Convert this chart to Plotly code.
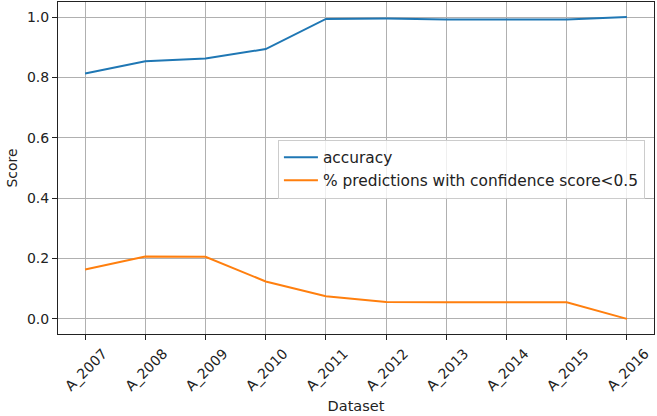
import plotly.graph_objects as go

datasets = ["A_2007", "A_2008", "A_2009", "A_2010", "A_2011", "A_2012", "A_2013", "A_2014", "A_2015", "A_2016"]
accuracy = [0.813, 0.854, 0.863, 0.894, 0.994, 0.995, 0.992, 0.993, 0.992, 1.0]
low_conf = [0.164, 0.207, 0.206, 0.124, 0.075, 0.056, 0.055, 0.055, 0.055, 0.0]

fig = go.Figure()
fig.add_trace(go.Scatter(x=datasets, y=accuracy, mode="lines", name="accuracy",
                         line=dict(color="#1f77b4", width=2)))
fig.add_trace(go.Scatter(x=datasets, y=low_conf, mode="lines",
                         name="% predictions with confidence score<0.5",
                         line=dict(color="#ff7f0e", width=2)))

font = dict(family="DejaVu Sans", size=14, color="#222")
fig.update_layout(
    width=657, height=416,
    margin=dict(l=58, r=3, t=2, b=82, autoexpand=False),
    paper_bgcolor="white", plot_bgcolor="white",
    font=font,
    showlegend=True,
    legend=dict(x=0.369, y=0.585, xanchor="left", yanchor="top",
                bgcolor="rgba(255,255,255,0.8)", bordercolor="#cccccc", borderwidth=1,
                font=dict(family="DejaVu Sans", size=15.4, color="#222"),
                tracegroupgap=0, itemwidth=34),
)
fig.update_xaxes(
    type="category", range=[-0.45, 9.45], automargin=False,
    showgrid=True, gridcolor="#b0b0b0", gridwidth=1,
    showline=True, linecolor="#222", linewidth=1, mirror=True,
    ticks="outside", ticklen=5, tickcolor="#222",
    tickangle=-45, ticklabelshift=18,
    title=dict(text="Dataset", font=dict(size=14.5), standoff=8),
)
fig.update_yaxes(
    range=[-0.05, 1.05], tickvals=[0, 0.2, 0.4, 0.6, 0.8, 1.0], tickformat=".1f",
    automargin=False,
    showgrid=True, gridcolor="#b0b0b0", gridwidth=1, zeroline=False,
    showline=True, linecolor="#222", linewidth=1, mirror=True,
    ticks="outside", ticklen=5, tickcolor="#222",
    title=dict(text="Score", font=dict(size=14), standoff=6),
)
fig.write_html("out.html", config={"displayModeBar": False},
               post_script="document.body.style.margin='0';document.body.style.overflow='hidden';")
